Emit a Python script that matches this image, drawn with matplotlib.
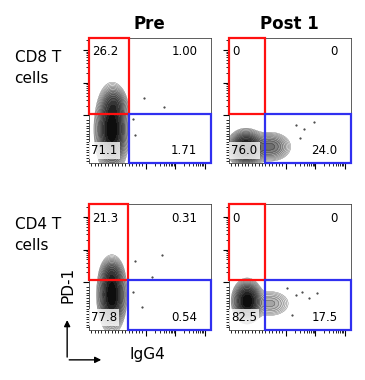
import numpy as np
import matplotlib.pyplot as plt
from matplotlib.patches import Rectangle, FancyArrowPatch

# panels: (row, col)
titles = ['Pre', 'Post 1']
rows = ['CD8 T\ncells', 'CD4 T\ncells']

# quadrant percentages: [UL, UR, LL, LR]
pcts = [['26.2', '1.00', '71.1', '1.71'],
        ['0', '0', '76.0', '24.0'],
        ['21.3', '0.31', '77.8', '0.54'],
        ['0', '0', '82.5', '17.5']]

# gate positions (IgG4 cut, PD-1 cut) in axis units 0..1
gate_x = [0.33, 0.295, 0.32, 0.30]
gate_y = [0.39, 0.39, 0.40, 0.40]

# population blobs: (cx, cy, sx, sy, weight)
blobs = [
    [(0.19, 0.27, 0.056, 0.14, 1.0), (0.21, 0.47, 0.045, 0.06, 0.25)],
    [(0.14, 0.12, 0.062, 0.06, 1.0), (0.34, 0.13, 0.08, 0.055, 0.28)],
    [(0.19, 0.28, 0.048, 0.12, 1.0), (0.19, 0.45, 0.04, 0.05, 0.2)],
    [(0.15, 0.23, 0.05, 0.07, 1.0), (0.34, 0.21, 0.085, 0.055, 0.14)],
]

# a few stray events
dots_x = [[0.36, 0.45, 0.38, 0.62], [0.55, 0.62, 0.58, 0.70],
          [0.38, 0.52, 0.36, 0.44, 0.6], [0.55, 0.60, 0.66, 0.72, 0.48, 0.52]]
dots_y = [[0.35, 0.52, 0.22, 0.45], [0.30, 0.27, 0.20, 0.33],
          [0.55, 0.42, 0.30, 0.18, 0.60], [0.28, 0.30, 0.25, 0.29, 0.33, 0.12]]

fig = plt.figure(figsize=(3.65, 3.80), dpi=100)

lefts = [0.243, 0.627]
bottoms = [0.571, 0.132]
W, H = 0.334, 0.33

gx, gy = np.meshgrid(np.linspace(0, 1, 250), np.linspace(0, 1, 250))

# logicle-ish tick marks (style only)
def log_ticks(start, step, n):
    major, minor = [], []
    for d in range(n):
        base = start + d * step
        major.append(base)
        for k in range(2, 10):
            p = base + np.log10(k) * step
            if p < 1:
                minor.append(p)
    return major, minor

ymaj, ymin = log_ticks(0.38, 0.26, 3)
ymin += list(np.linspace(0.02, 0.34, 16))
xmaj, xmin = log_ticks(0.47, 0.24, 3)
xmin += list(np.linspace(0.02, 0.44, 16))

for i in range(4):
    r, c = divmod(i, 2)
    ax = fig.add_axes([lefts[c], bottoms[r], W, H])
    z = np.zeros_like(gx)
    for cx, cy, sx, sy, w in blobs[i]:
        z += w * np.exp(-((gx - cx) ** 2 / (2 * sx ** 2) + (gy - cy) ** 2 / (2 * sy ** 2)))
    levels = z.max() * np.logspace(-1.5, 0, 16)
    shades = plt.cm.Greys(np.linspace(0.08, 0.95, len(levels) - 1))
    ax.contourf(gx, gy, z, levels=levels, colors=shades)
    ax.contour(gx, gy, z, levels=levels[:-4], colors='k', linewidths=0.3, alpha=0.5)
    ax.scatter(dots_x[i], dots_y[i], s=0.3, color='#333333')

    # gates
    ax.add_patch(Rectangle((0, gate_y[i]), gate_x[i], 1 - gate_y[i], fill=False,
                           edgecolor='#ff1010', lw=1.6, clip_on=False, zorder=5))
    ax.add_patch(Rectangle((gate_x[i], 0), 1 - gate_x[i], gate_y[i], fill=False,
                           edgecolor='#3030f0', lw=1.6, clip_on=False, zorder=5))
    ax.plot([gate_x[i], 1], [gate_y[i], gate_y[i]], color='#555555', lw=0.6)
    ax.plot([gate_x[i], gate_x[i]], [gate_y[i], 1], color='#555555', lw=0.6)

    p = pcts[i]
    kw = dict(fontsize=8.5, transform=ax.transAxes, zorder=6)
    ax.text(0.03, 0.89, p[0], ha='left', va='center', **kw)
    ax.text(0.89, 0.89, p[1], ha='right', va='center', **kw)
    ax.text(0.02, 0.10, p[2], ha='left', va='center',
            bbox=dict(facecolor='white', edgecolor='none', alpha=0.8, pad=1.5), **kw)
    ax.text(0.89, 0.10, p[3], ha='right', va='center', **kw)

    ax.set_xlim(0, 1)
    ax.set_ylim(0, 1)
    ax.set_yticks(ymaj)
    ax.set_yticks(ymin, minor=True)
    ax.set_xticks(xmaj)
    ax.set_xticks(xmin, minor=True)
    ax.tick_params(which='major', length=4, width=0.8, labelleft=False, labelbottom=False)
    ax.tick_params(which='minor', length=2, width=0.6)
    for s in ax.spines.values():
        s.set_linewidth(0.6)
        s.set_color('#444444')

    if r == 0:
        ax.set_title(titles[c], fontsize=12, fontweight='bold', pad=6)

for r in range(2):
    fig.text(0.04, bottoms[r] + H - 0.08, rows[r], fontsize=11, ha='left', va='center',
             linespacing=1.5)

fig.text(0.405, 0.066, 'IgG4', fontsize=11, ha='center', va='center')
fig.text(0.185, 0.25, 'PD-1', fontsize=11, ha='center', va='center', rotation=90)

arr = dict(arrowstyle='-|>', color='k', lw=1, mutation_scale=9)
fig.add_artist(FancyArrowPatch((0.184, 0.053), (0.184, 0.165),
                               transform=fig.transFigure, **arr))
fig.add_artist(FancyArrowPatch((0.182, 0.053), (0.285, 0.053),
                               transform=fig.transFigure, **arr))

fig.savefig('out.png', dpi=100)
